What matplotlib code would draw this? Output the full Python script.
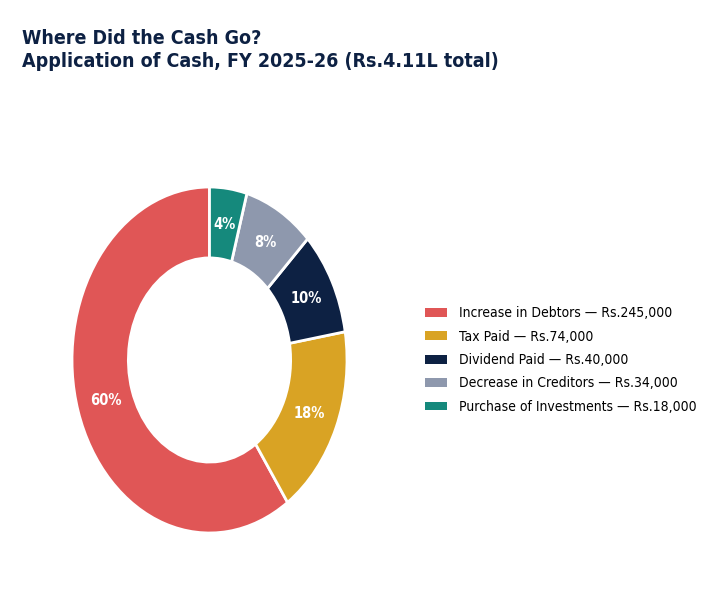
import matplotlib
matplotlib.use("Agg")
import matplotlib.pyplot as plt
from matplotlib.patches import Patch

# Data
categories = ["Increase in Debtors", "Tax Paid", "Dividend Paid",
              "Decrease in Creditors", "Purchase of Investments"]
amounts = [245000, 74000, 40000, 34000, 18000]
colors = ["#E05656", "#D9A324", "#0D2143", "#8E98AD", "#15897C"]

plt.rcParams["font.family"] = ["DejaVu Sans"]
plt.rcParams["font.stretch"] = "condensed"
navy = "#0D2143"

fig = plt.figure(figsize=(7.2, 6.07), dpi=100)
ax = fig.add_axes([72 / 720, 1 - 533 / 607, 275 / 720, 346 / 607])

wedges, texts, autotexts = ax.pie(
    amounts, colors=colors, startangle=90, counterclock=True,
    autopct="%1.0f%%", pctdistance=0.79,
    wedgeprops=dict(width=0.41, edgecolor="white", linewidth=2),
    textprops=dict(color="white", fontsize=10.5, fontweight="bold",
                   fontstretch="condensed"),
)
ax.set_aspect("auto")
ax.set_xlim(-1, 1)
ax.set_ylim(-1, 1)
ax.axis("off")

fig.text(22 / 720, 1 - 44 / 607, "Where Did the Cash Go?",
         fontsize=14, fontweight="bold", color=navy, ha="left", va="baseline",
         fontstretch="condensed")
fig.text(22 / 720, 1 - 67 / 607, "Application of Cash, FY 2025-26 (Rs.4.11L total)",
         fontsize=14, fontweight="bold", color=navy, ha="left", va="baseline",
         fontstretch="condensed")

handles = [Patch(facecolor=c, edgecolor="none") for c in colors]
labels = [f"{n} — Rs.{v:,}" for n, v in zip(categories, amounts)]
fig.legend(handles, labels, loc="center left",
           bbox_to_anchor=(412 / 720, 1 - 360 / 607), frameon=False,
           prop=dict(size=10, stretch="condensed"),
           handlelength=1.65, handleheight=0.6,
           labelspacing=0.68, handletextpad=0.85)

fig.savefig("out.png", dpi=100)
